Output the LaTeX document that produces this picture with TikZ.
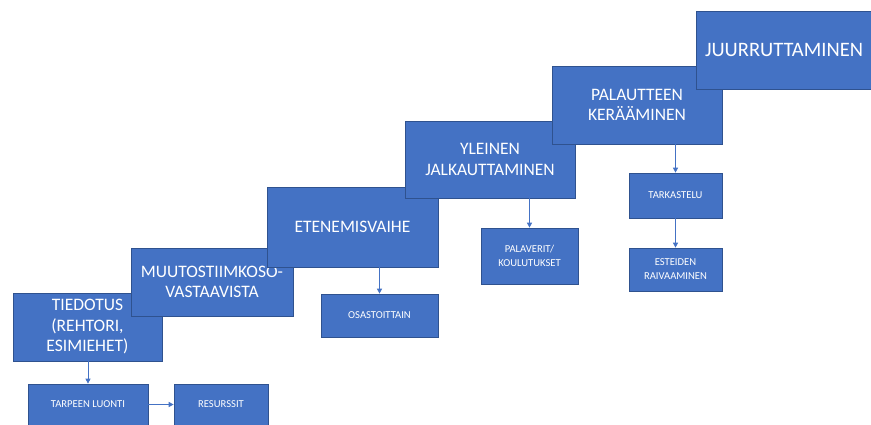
\documentclass[tikz,border=0pt]{standalone}
\usepackage{fontspec}
\setmainfont{Carlito}
\usetikzlibrary{arrows.meta}
\definecolor{boxc}{HTML}{4472C4}
\definecolor{bordc}{HTML}{2F528F}
\tikzset{
  box/.style={draw=bordc, fill=boxc, line width=0.7pt, text=white, align=center, inner sep=0pt},
  bigbox/.style={box, font=\fontsize{17.5}{20.5}\selectfont},
  smallbox/.style={box, font=\fontsize{10.6}{14}\selectfont},
  conn/.style={draw=boxc, line width=0.8pt, -{Triangle[length=5pt,width=5pt]}}
}
\begin{document}
\begin{tikzpicture}[x=1pt,y=-1pt]
\useasboundingbox[fill=white] (0,0) rectangle (871,424);
% big stair boxes, left to right (later ones on top)
\node[bigbox, minimum width=149pt, minimum height=68pt] (tiedotus) at (87.5,327) {TIEDOTUS\\(REHTORI,\\ESIMIEHET)};
\node[bigbox, minimum width=162pt, minimum height=68pt] (muutos) at (212,282) {MUUTOSTIIMKOSO-\\VASTAAVISTA};
\node[bigbox, minimum width=171pt, minimum height=80pt] (etene) at (352.5,227) {ETENEMISVAIHE};
\node[bigbox, minimum width=170pt, minimum height=77pt] (yleinen) at (490,159.5) {YLEINEN\\JALKAUTTAMINEN};
\node[bigbox, minimum width=170pt, minimum height=78pt] (palaute) at (637,105) {PALAUTTEEN\\KERÄÄMINEN};
\node[bigbox, minimum width=176pt, minimum height=78pt, font=\fontsize{20.5}{24}\selectfont] (juurr) at (784,50) {JUURRUTTAMINEN};
% small boxes
\node[smallbox, minimum width=120pt, minimum height=41pt] (tarpeen) at (88,404.5) {TARPEEN LUONTI};
\node[smallbox, minimum width=94pt, minimum height=41pt] (resurssit) at (221,404.5) {RESURSSIT};
\node[smallbox, minimum width=117pt, minimum height=43pt] (osasto) at (379.5,315.5) {OSASTOITTAIN};
\node[smallbox, minimum width=97pt, minimum height=56pt] (palaverit) at (529.5,256) {PALAVERIT/\\KOULUTUKSET};
\node[smallbox, minimum width=93pt, minimum height=45pt] (tarkastelu) at (675.5,195.5) {TARKASTELU};
\node[smallbox, minimum width=93pt, minimum height=43pt] (esteiden) at (675.5,269.5) {ESTEIDEN\\RAIVAAMINEN};
% connectors
\draw[conn] (tarpeen.north |- tiedotus.south) -- (tarpeen.north);
\draw[conn] (tarpeen.east) -- (resurssit.west);
\draw[conn] (osasto.north |- etene.south) -- (osasto.north);
\draw[conn] (palaverit.north |- yleinen.south) -- (palaverit.north);
\draw[conn] (tarkastelu.north |- palaute.south) -- (tarkastelu.north);
\draw[conn] (tarkastelu.south) -- (esteiden.north);
\end{tikzpicture}
\end{document}
